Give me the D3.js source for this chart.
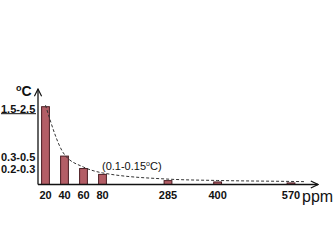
<!DOCTYPE html>
<html>
<head>
    <script type="text/javascript" src="https://cdn.jsdelivr.net/npm/d3@7"></script>
    <style>
        body { margin: 0; background: #fff; }
        text { font-family: "Liberation Sans", Arial, sans-serif; font-weight: bold; fill: #111; }
    </style>
</head>
<body>
    <div id="viz"></div>
    <script type="text/javascript">

    // data
    var ppm = [20, 40, 60, 80, 285, 400, 570];
    var temp = [2.0, 0.73, 0.41, 0.26, 0.1, 0.065, 0.04];   // bar heights, degC (schematic)
    var yLabels = ["1.5-2.5", "0.3-0.5", "0.2-0.3"];
    var yLabelAt = [2.0, 0.73, 0.41];
    var note = "(0.1-0.15";

    var W = 335, H = 251;
    var x0 = 38, yBase = 184.5;

    var svg = d3.select("#viz").append("svg")
        .attr("width", W).attr("height", H);

    // x is not linear in the original, piecewise scale
    var x = d3.scaleLinear()
        .domain([20, 80, 285, 570])
        .range([45.5, 102.5, 168, 291]);

    var y = d3.scaleLinear()
        .domain([0, 2.0])
        .range([yBase, 106.7]);

    var barW = 7.8;

    svg.append("defs").append("marker")
        .attr("id", "arr")
        .attr("viewBox", "0 0 10 10")
        .attr("refX", 9).attr("refY", 5)
        .attr("markerWidth", 9).attr("markerHeight", 9)
        .attr("markerUnits", "userSpaceOnUse")
        .attr("orient", "auto")
        .append("path")
        .attr("d", "M1,1 L9,5 L1,9")
        .attr("fill", "none")
        .attr("stroke", "#111")
        .attr("stroke-width", 1.3);

    svg.selectAll("rect.bar")
        .data(ppm)
        .enter().append("rect")
        .attr("class", "bar")
        .attr("x", function(d) { return x(d) - barW / 2; })
        .attr("y", function(d, i) { return y(temp[i]); })
        .attr("width", barW)
        .attr("height", function(d, i) { return yBase - y(temp[i]); })
        .attr("fill", "#b35e66")
        .attr("stroke", "#4a1c22")
        .attr("stroke-width", 1);

    // dashed decay curve over the bar tops, runs a bit past the last bar
    svg.append("path")
        .datum(ppm.concat([600]))
        .attr("d", d3.line()
            .x(function(d) { return x(d); })
            .y(function(d, i) { return y(i < temp.length ? temp[i] : 0.035) - 1.5; })
            .curve(d3.curveMonotoneX))
        .attr("fill", "none")
        .attr("stroke", "#333")
        .attr("stroke-width", 1)
        .attr("stroke-dasharray", "3,2");

    // axes
    svg.append("line")
        .attr("x1", x0).attr("y1", yBase)
        .attr("x2", x0).attr("y2", 89)
        .attr("stroke", "#111").attr("stroke-width", 1.3)
        .attr("marker-end", "url(#arr)");

    svg.append("line")
        .attr("x1", x0).attr("y1", yBase)
        .attr("x2", 318).attr("y2", yBase)
        .attr("stroke", "#111").attr("stroke-width", 1.3)
        .attr("marker-end", "url(#arr)");

    // x tick labels
    svg.selectAll("text.xt")
        .data(ppm)
        .enter().append("text")
        .attr("class", "xt")
        .attr("x", function(d) { return x(d); })
        .attr("y", 199)
        .attr("text-anchor", "middle")
        .style("font-size", "11px")
        .text(function(d) { return d; });

    svg.append("text")
        .attr("x", 302).attr("y", 202)
        .style("font-size", "16px")
        .style("font-weight", "normal")
        .text("ppm");

    // y labels
    svg.selectAll("text.yt")
        .data(yLabels)
        .enter().append("text")
        .attr("class", "yt")
        .attr("x", 1)
        .attr("y", function(d, i) { return y(yLabelAt[i]) + (i == 0 ? 6 : 4.5); })
        .style("font-size", "11px")
        .text(function(d) { return d; });

    svg.append("line")
        .attr("x1", 1).attr("x2", 36)
        .attr("y1", y(yLabelAt[0]) + 7).attr("y2", y(yLabelAt[0]) + 7)
        .attr("stroke", "#111").attr("stroke-width", 1);

    var tC = svg.append("text")
        .attr("x", 16).attr("y", 96)
        .style("font-size", "14px");
    tC.append("tspan").attr("font-size", "9px").attr("dy", -5).text("o");
    tC.append("tspan").attr("dy", 5).text("C");

    var tn = svg.append("text")
        .attr("x", 102).attr("y", 170)
        .style("font-size", "11px")
        .style("font-weight", "normal");
    tn.append("tspan").text(note);
    tn.append("tspan").attr("font-size", "7px").attr("dy", -4).text("o");
    tn.append("tspan").attr("dy", 4).text("C)");

    </script>
</body>
</html>
